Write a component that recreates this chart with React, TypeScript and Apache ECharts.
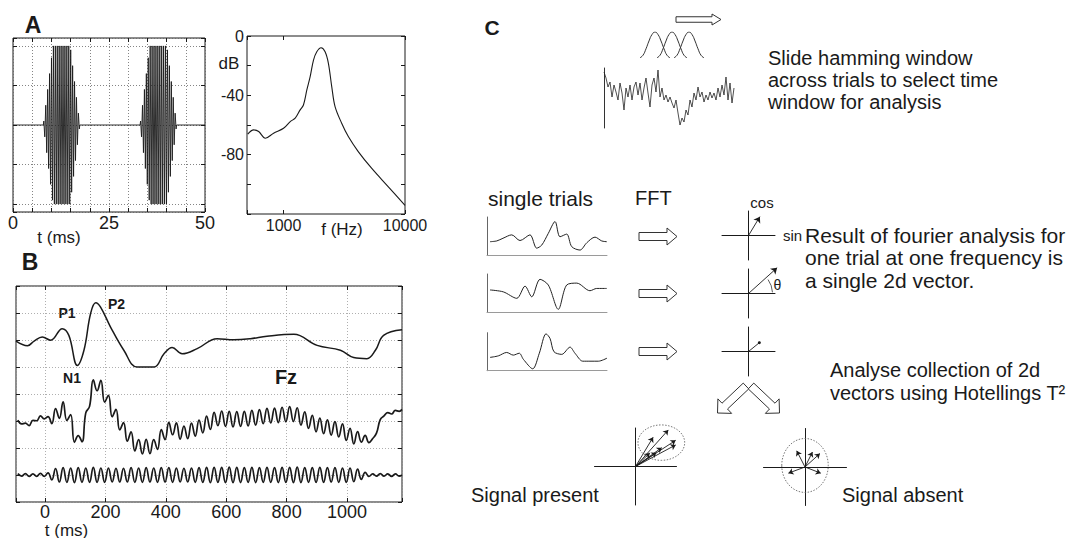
import React, { useEffect, useRef } from 'react';
import * as echarts from 'echarts';

const FONT = "'Liberation Sans', Arial, Helvetica, sans-serif";
const INK = '#1a1a1a';

// ---------- Panel A (left): two tone bursts ----------
const toneRangeMs = [0, 50];
const toneTickLabels = [0, 25, 50];
const burstStartsMs = [7.9, 33.1];
const burstHalfPeriodMs = 0.25;
const burstEnvelope = [0.05, 0.15, 0.25, 0.35, 0.45, 0.55, 0.65, 0.75, 0.85, 0.95, 1, 1, 1, 1, 1, 1, 1, 1, 1, 1, 1, 1, 1, 1, 1, 1, 1, 1, 0.95, 0.85, 0.75, 0.65, 0.55, 0.45, 0.35, 0.25, 0.15, 0.05];

// ---------- Panel A (right): spectrum ----------
const specFreqHz = [507, 568, 624, 708, 828, 1000, 1135, 1247, 1370, 1458, 1555, 1656, 1764, 1878, 2037, 2198, 2340, 2493, 2655, 3010, 3414, 4121, 5305, 7262, 10000];
const specDb = [-66.2, -63.3, -64.4, -68.9, -65.5, -62.2, -57.7, -55.4, -49.8, -46.5, -36.4, -27.4, -16.2, -10.6, -7.9, -10.6, -18.4, -34.1, -47.6, -58.8, -67.8, -77.9, -89.1, -101.5, -114.2];
const specDbLabels = [0, -40, -80];
const specFreqLabels = [1000, 10000];

// ---------- Panel B ----------
const erpRangeMs = [-96, 1182];
const erpTickLabels = [0, 200, 400, 600, 800, 1000];
const erpTimesMs = [-96, -58, -36, -9, 19, 57, 79, 107, 129, 151, 168, 184, 217, 261, 305, 361, 394, 421, 454, 504, 570, 625, 680, 735, 824, 901, 978, 1022, 1066, 1094, 1121, 1182];
const erpValues = [5.96, 5.79, 5.96, 6.11, 5.99, 6.42, 6.17, 5.06, 5.62, 6.98, 7.38, 7.22, 6.48, 5.62, 5.0, 5.0, 5.49, 5.72, 5.49, 5.68, 6.05, 6.01, 6.05, 6.14, 6.21, 5.8, 5.62, 5.35, 5.31, 5.62, 6.17, 6.38];
const fzStartMs = -90;
const fzStepMs = 12.5;
const fzValues = [3.03, 2.89, 2.92, 2.83, 3.02, 3.01, 3.19, 3.08, 3.16, 2.9, 3.46, 3.1, 3.71, 3.02, 3.24, 2.21, 2.46, 2.23, 3.3, 3.54, 4.52, 4.12, 4.51, 3.7, 3.95, 3.16, 3.43, 2.67, 2.94, 2.25, 2.6, 1.89, 2.31, 1.78, 2.32, 1.79, 2.31, 1.95, 2.68, 2.31, 2.95, 2.49, 2.93, 2.33, 2.81, 2.35, 2.92, 2.44, 3.03, 2.56, 3.18, 2.69, 3.32, 2.83, 3.37, 2.8, 3.36, 2.78, 3.35, 2.8, 3.36, 2.82, 3.39, 2.85, 3.42, 2.9, 3.47, 2.93, 3.48, 2.94, 3.51, 2.97, 3.53, 2.98, 3.49, 2.85, 3.34, 2.73, 3.21, 2.6, 3.11, 2.53, 3.04, 2.48, 2.98, 2.41, 2.89, 2.28, 2.73, 2.15, 2.61, 2.22, 2.47, 2.2, 2.35, 2.55, 3.05, 3.19, 3.31, 3.26, 3.39, 3.36];
const fzEndValue = 3.43;
const ssrValues = [1.05, 0.96, 1.05, 0.95, 1.04, 0.95, 1.06, 0.95, 1.08, 0.82, 1.24, 0.74, 1.27, 0.73, 1.26, 0.72, 1.27, 0.73, 1.26, 0.73, 1.28, 0.73, 1.26, 0.73, 1.26, 0.74, 1.25, 0.74, 1.25, 0.74, 1.27, 0.73, 1.26, 0.73, 1.27, 0.74, 1.26, 0.73, 1.27, 0.74, 1.27, 0.73, 1.26, 0.74, 1.25, 0.74, 1.26, 0.73, 1.27, 0.73, 1.28, 0.72, 1.28, 0.73, 1.28, 0.72, 1.29, 0.72, 1.28, 0.72, 1.27, 0.73, 1.28, 0.72, 1.27, 0.73, 1.28, 0.73, 1.27, 0.72, 1.28, 0.73, 1.28, 0.72, 1.29, 0.72, 1.27, 0.73, 1.27, 0.73, 1.28, 0.73, 1.27, 0.74, 1.27, 0.73, 1.26, 0.73, 1.26, 0.75, 1.22, 0.84, 1.1, 0.95, 1.04, 0.96, 1.05, 0.96, 1.04, 0.95, 1.04, 0.96];
const ssrEndValue = 1.0;

// ---------- Panel C ----------
const noiseValues = [56, 50, 41, 46, 31, 43, 36, 28, 45, 35, 18, 40, 31, 43, 28, 41, 46, 33, 45, 28, 40, 50, 35, 21, 43, 50, 36, 58, 31, 40, 28, 33, 26, 31, 25, 20, 28, 15, 3, 10, 6, 18, 13, 28, 21, 35, 28, 41, 31, 36, 26, 33, 28, 36, 30, 35, 28, 40, 31, 43, 33, 51, 28, 45, 25, 40];
const hammingX = [0, 3, 6, 9, 12, 15, 18, 21, 24, 27, 30];
const hammingShape = [0.08, 0.17, 0.4, 0.68, 0.91, 1, 0.91, 0.68, 0.4, 0.17, 0.08];
const hammingOffsets = [0, 17, 34];
const trial1 = [[2.5, 3.5], [8.1, 3.7], [13.3, 4.4], [20.6, 5.3], [27.5, 3.8], [35.8, 5.3], [41.4, 1.8], [45.6, 2.6], [51.1, 5.7], [56.7, 8.8], [60.8, 4.8], [66.4, 5.5], [70.6, 2.2], [77.5, 1.3], [83.1, 3.2], [90, 4.7], [95.6, 3.7], [99.8, 3.5]];
const trial2 = [[2.5, 5.8], [13.6, 5.3], [24.8, 3.6], [31.7, 6.8], [37.3, 4.0], [44.2, 8.6], [51.1, 7.1], [59.4, 0.7], [66.4, 7.1], [74.8, 7.6], [85.8, 5.6], [91.4, 6.2], [99.8, 6.2]];
const trial3 = [[2.5, 3.5], [9.4, 3.9], [16.4, 4.8], [21.9, 4.1], [26.9, 4.6], [30.3, 3.0], [38.1, 0.5], [43.6, 4.6], [49.2, 9.7], [52.5, 8.5], [55.8, 5.0], [62.3, 4.3], [69.2, 6.2], [73.3, 4.6], [79.8, 2.5], [85.8, 2.5], [92.8, 2.5], [100, 3.3]];
const singleVectors = [[0.43, 0.77], [1.08, 1.05], [0.41, 0.36]];
const presentVectors = [[0.43, 0.76], [0.8, 0.95], [0.98, 0.68], [0.98, 0.56], [0.35, 0.35], [0.51, 0.36], [0.64, 0.49]];
const presentEllipse = [0.63, 0.62, 0.57, 0.46];
const absentVectors = [[-0.2, 0.42], [0.18, 0.39], [0.36, 0.35], [-0.4, -0.16], [0.38, -0.16]];
const absentEllipse = [0, 0.04, 0.56, 0.7];

function arrowPoints(x1: number, y1: number, x2: number, y2: number, sw: number, hw: number, hl: number) {
  const dx = x2 - x1, dy = y2 - y1, L = Math.hypot(dx, dy);
  const ux = dx / L, uy = dy / L, nx = -uy, ny = ux;
  const bx = x2 - ux * hl, by = y2 - uy * hl;
  return [
    [x1 + nx * sw / 2, y1 + ny * sw / 2],
    [bx + nx * sw / 2, by + ny * sw / 2],
    [bx + nx * hw / 2, by + ny * hw / 2],
    [x2, y2],
    [bx - nx * hw / 2, by - ny * hw / 2],
    [bx - nx * sw / 2, by - ny * sw / 2],
    [x1 - nx * sw / 2, y1 - ny * sw / 2],
  ];
}

function buildOption() {
  const grid: any[] = [], xAxis: any[] = [], yAxis: any[] = [], series: any[] = [];
  const addGrid = (g: any) => { grid.push({ containLabel: false, outerBoundsMode: 'none', ...g }); return grid.length - 1; };
  const addX = (a: any) => { xAxis.push(a); return xAxis.length - 1; };
  const addY = (a: any) => { yAxis.push(a); return yAxis.length - 1; };
  const tick = { show: true, inside: true, length: 4, lineStyle: { color: INK, width: 1 } };
  const noLine = { show: false, onZero: false };
  const dotted = (c: string) => ({ show: true, lineStyle: { color: c, type: [1, 2], width: 0.8 } });
  const lbl = (size: number) => ({ color: INK, fontFamily: FONT, fontSize: size });
  const frame = { show: true, borderColor: INK, borderWidth: 1, backgroundColor: 'transparent' };

  // ---- A left ----
  const gA = addGrid({ left: 13, top: 38, width: 192, height: 174, ...frame });
  const xA = addX({ type: 'value', gridIndex: gA, position: 'bottom', min: toneRangeMs[0], max: toneRangeMs[1], interval: 5, axisLine: noLine, axisTick: tick,
    axisLabel: { ...lbl(18), margin: 2, formatter: (v: number) => (toneTickLabels.includes(v) ? String(v) : '') }, splitLine: dotted('#666') });
  addX({ type: 'value', gridIndex: gA, position: 'top', min: toneRangeMs[0], max: toneRangeMs[1], interval: 5, axisLine: noLine, axisTick: tick, axisLabel: { show: false }, splitLine: { show: false } });
  const yA = addY({ type: 'value', gridIndex: gA, position: 'left', min: -1.1, max: 1.1, minInterval: 0.5, maxInterval: 0.5, splitNumber: 4, axisLine: noLine, axisTick: tick, axisLabel: { show: false }, splitLine: dotted('#666') });
  addY({ type: 'value', gridIndex: gA, position: 'right', min: -1.1, max: 1.1, minInterval: 0.5, maxInterval: 0.5, splitNumber: 4, axisLine: noLine, axisTick: tick, axisLabel: { show: false }, splitLine: { show: false } });
  const tone: number[][] = [[toneRangeMs[0], 0]];
  burstStartsMs.forEach((s) => {
    tone.push([s, 0]);
    burstEnvelope.forEach((a, k) => tone.push([s + (k + 0.5) * burstHalfPeriodMs, k % 2 === 0 ? a : -a]));
    tone.push([s + burstEnvelope.length * burstHalfPeriodMs, 0]);
  });
  tone.push([toneRangeMs[1], 0]);
  series.push({ type: 'line', xAxisIndex: xA, yAxisIndex: yA, data: tone, symbol: 'none', lineStyle: { color: INK, width: 0.9 } });

  // ---- A right ----
  const gS = addGrid({ left: 247, top: 36, width: 158, height: 178, ...frame });
  const near = (v: number, list: number[]) => list.some((t) => Math.abs(v - t) < 0.5);
  const xS = addX({ type: 'log', logBase: 10, gridIndex: gS, position: 'bottom', min: 500, max: 10000, axisLine: noLine, axisTick: tick,
    axisLabel: { ...lbl(16), margin: 3, formatter: (v: number) => (near(v, specFreqLabels) ? String(Math.round(v)) : '') }, splitLine: { show: false } });
  addX({ type: 'log', logBase: 10, gridIndex: gS, position: 'top', min: 500, max: 10000, axisLine: noLine, axisTick: tick, axisLabel: { show: false }, splitLine: { show: false } });
  const yS = addY({ type: 'value', gridIndex: gS, position: 'left', min: -120, max: 0, interval: 20, axisLine: noLine, axisTick: tick,
    axisLabel: { ...lbl(16), margin: 3, formatter: (v: number) => (near(v, specDbLabels) ? String(v) : '') }, splitLine: { show: false } });
  addY({ type: 'value', gridIndex: gS, position: 'right', min: -120, max: 0, interval: 20, axisLine: noLine, axisTick: tick, axisLabel: { show: false }, splitLine: { show: false } });
  series.push({ type: 'line', xAxisIndex: xS, yAxisIndex: yS, data: specFreqHz.map((f, i) => [f, specDb[i]]), symbol: 'none', smooth: 0.35, lineStyle: { color: INK, width: 1.1 } });

  // ---- B ----
  const gB = addGrid({ left: 16, top: 286, width: 386, height: 216, ...frame });
  const xB = addX({ type: 'value', gridIndex: gB, position: 'bottom', min: erpRangeMs[0], max: erpRangeMs[1], minInterval: 200, maxInterval: 200, splitNumber: 6, axisLine: noLine, axisTick: tick,
    axisLabel: { ...lbl(18), margin: 1, formatter: (v: number) => (near(v, erpTickLabels) ? String(Math.round(v)) : '') }, splitLine: dotted('#9a9a9a') });
  addX({ type: 'value', gridIndex: gB, position: 'top', min: erpRangeMs[0], max: erpRangeMs[1], minInterval: 200, maxInterval: 200, splitNumber: 6, axisLine: noLine, axisTick: tick, axisLabel: { show: false }, splitLine: { show: false } });
  const yB = addY({ type: 'value', gridIndex: gB, position: 'left', min: 0, max: 8, interval: 1, axisLine: noLine, axisTick: tick, axisLabel: { show: false }, splitLine: dotted('#9a9a9a') });
  addY({ type: 'value', gridIndex: gB, position: 'right', min: 0, max: 8, interval: 1, axisLine: noLine, axisTick: tick, axisLabel: { show: false }, splitLine: { show: false } });
  const fzTimes = fzValues.map((_, i) => fzStartMs + i * fzStepMs);
  series.push({ type: 'line', xAxisIndex: xB, yAxisIndex: yB, data: erpTimesMs.map((t, i) => [t, erpValues[i]]), symbol: 'none', smooth: 0.4, lineStyle: { color: INK, width: 1.5 } });
  series.push({ type: 'line', xAxisIndex: xB, yAxisIndex: yB, data: [...fzTimes.map((t, i) => [t, fzValues[i]]), [erpRangeMs[1], fzEndValue]], symbol: 'none', smooth: 0.45, lineStyle: { color: INK, width: 1.7 } });
  series.push({ type: 'line', xAxisIndex: xB, yAxisIndex: yB, data: [...fzTimes.map((t, i) => [t, ssrValues[i]]), [erpRangeMs[1], ssrEndValue]], symbol: 'none', smooth: 0.45, lineStyle: { color: INK, width: 1.7 } });

  // ---- C: hamming windows ----
  const gH = addGrid({ left: 640, top: 32, width: 64, height: 28 });
  const xH = addX({ type: 'value', gridIndex: gH, min: 0, max: 64, show: false });
  const yH = addY({ type: 'value', gridIndex: gH, min: 0, max: 1, show: false });
  hammingOffsets.forEach((o) => {
    series.push({ type: 'line', xAxisIndex: xH, yAxisIndex: yH, data: hammingX.map((x, i) => [o + x, hammingShape[i]]), symbol: 'none', smooth: true, lineStyle: { color: '#333', width: 1 } });
  });

  // ---- C: noisy trace ----
  const gN = addGrid({ left: 604, top: 68, width: 130, height: 60 });
  const xN = addX({ type: 'category', gridIndex: gN, data: noiseValues.map((_, i) => i), boundaryGap: false, axisLine: noLine, axisTick: { show: false }, axisLabel: { show: false }, splitLine: { show: false } });
  const yN = addY({ type: 'value', gridIndex: gN, min: 0, max: 60, axisLine: { show: true, onZero: false, lineStyle: { color: '#333', width: 1 } }, axisTick: { show: false }, axisLabel: { show: false }, splitLine: { show: false } });
  series.push({ type: 'line', xAxisIndex: xN, yAxisIndex: yN, data: noiseValues, symbol: 'none', lineStyle: { color: '#222', width: 0.8 } });

  // ---- C: single trials ----
  const trials = [trial1, trial2, trial3];
  const trialTops = [217, 274, 332.7];
  trials.forEach((tr, k) => {
    const g = addGrid({ left: 487, top: trialTops[k], width: 120, height: 38 });
    const xi = addX({ type: 'value', gridIndex: g, min: 0, max: 100, axisLine: { show: true, onZero: false, lineStyle: { color: '#9a9a9a', width: 1 } }, axisTick: { show: false }, axisLabel: { show: false }, splitLine: { show: false } });
    const yi = addY({ type: 'value', gridIndex: g, min: 0, max: 10, axisLine: { show: true, onZero: false, lineStyle: { color: '#666', width: 1 } }, axisTick: { show: false }, axisLabel: { show: false }, splitLine: { show: false } });
    series.push({ type: 'line', xAxisIndex: xi, yAxisIndex: yi, data: tr, symbol: 'none', smooth: 0.3, lineStyle: { color: '#222', width: 1 } });
  });

  // ---- C: vector diagrams ----
  const vecGrid = (left: number, top: number, width: number, height: number) => {
    const g = addGrid({ left, top, width, height });
    const ax = { show: true, onZero: true, lineStyle: { color: INK, width: 1 } };
    const xi = addX({ type: 'value', gridIndex: g, min: -1, max: 1, axisLine: ax, axisTick: { show: false }, axisLabel: { show: false }, splitLine: { show: false } });
    const yi = addY({ type: 'value', gridIndex: g, min: -1, max: 1, axisLine: ax, axisTick: { show: false }, axisLabel: { show: false }, splitLine: { show: false } });
    return [xi, yi];
  };
  const vectorSeries = (ax: number[], vecs: number[][], head: string, size: number) => ({
    type: 'lines', coordinateSystem: 'cartesian2d', xAxisIndex: ax[0], yAxisIndex: ax[1], clip: false,
    data: vecs.map((v) => ({ coords: [[0, 0], v] })), symbol: ['none', head], symbolSize: size,
    lineStyle: { color: INK, width: 0.9, opacity: 1, curveness: 0 }, itemStyle: { color: INK },
  });
  const ellipseSeries = (ax: number[], e: number[]) => ({
    type: 'custom', xAxisIndex: ax[0], yAxisIndex: ax[1], clip: false, silent: true, data: [e],
    renderItem: (_p: any, api: any) => {
      const c = api.coord([api.value(0), api.value(1)]);
      const s = api.size([api.value(2), api.value(3)]);
      return { type: 'ellipse', shape: { cx: c[0], cy: c[1], rx: s[0], ry: s[1] }, style: { fill: 'none', stroke: '#555', lineWidth: 0.8, lineDash: [1.5, 1.5] } };
    },
  });
  const vTops = [211, 269, 327];
  vTops.forEach((t, k) => {
    const ax = vecGrid(722, t, 53, 49);
    series.push(vectorSeries(ax, [singleVectors[k]], k === 2 ? 'circle' : 'arrow', k === 2 ? 3 : 6));
  });
  const axP = vecGrid(594.5, 428, 82, 77);
  series.push(ellipseSeries(axP, presentEllipse));
  series.push(vectorSeries(axP, presentVectors, 'arrow', 5));
  const axA = vecGrid(763.5, 428.5, 83, 77);
  series.push(ellipseSeries(axA, absentEllipse));
  series.push(vectorSeries(axA, absentVectors, 'arrow', 5));

  // ---- graphics: texts & block arrows ----
  const txt = (text: string, x: number, y: number, size: number, opts: any = {}) => ({
    type: 'text', x, y, silent: true,
    style: { text, fill: INK, fontFamily: FONT, fontSize: size, fontWeight: opts.bold ? 'bold' : 'normal', align: opts.align || 'center', verticalAlign: opts.va || 'middle', lineHeight: opts.lh },
  });
  const poly = (pts: number[][]) => ({ type: 'polygon', silent: true, shape: { points: pts }, style: { fill: '#fff', stroke: '#333', lineWidth: 1 } });
  const graphic: any[] = [
    txt('A', 33, 25, 23, { bold: true }),
    txt('B', 30, 262, 23, { bold: true }),
    txt('C', 492, 27.5, 21, { bold: true }),
    txt('t (ms)', 59, 237, 17),
    txt('dB', 229, 63, 17),
    txt('f (Hz)', 342, 229, 17),
    txt('t (ms)', 66.5, 530, 17),
    txt('P1', 67, 313, 14, { bold: true }),
    txt('P2', 116.5, 303.5, 14, { bold: true }),
    txt('N1', 72, 377.5, 14, { bold: true }),
    txt('Fz', 286, 377, 20, { bold: true }),
    txt('Slide hamming window\nacross trials to select time\nwindow for analysis', 768, 47.5, 20, { align: 'left', va: 'top', lh: 21.7 }),
    txt('single trials', 488, 198, 21, { align: 'left' }),
    txt('FFT', 635, 198, 20, { align: 'left' }),
    txt('cos', 762, 202, 15),
    txt('sin', 783, 235, 15, { align: 'left' }),
    txt('\u03b8', 777.5, 285, 14),
    txt('Result of fourier analysis for\none trial at one frequency is\na single 2d vector.', 805, 224, 21, { align: 'left', va: 'top', lh: 22.5 }),
    txt('Analyse collection of 2d\nvectors using Hotellings T\u00b2', 830, 358.5, 20, { align: 'left', va: 'top', lh: 23.3 }),
    txt('Signal present', 471, 495, 20, { align: 'left' }),
    txt('Signal absent', 842, 495, 20, { align: 'left' }),
    { type: 'arc', silent: true, shape: { cx: 748.5, cy: 293.5, r: 24, startAngle: -0.62, endAngle: -0.05, clockwise: true }, style: { fill: 'none', stroke: '#333', lineWidth: 0.8 } },
    poly(arrowPoints(676, 19.5, 721, 19.5, 5.5, 11, 9)),
    poly(arrowPoints(639, 236.5, 677, 236.5, 8, 17, 10)),
    poly(arrowPoints(639, 293.5, 677, 293.5, 8, 17, 10)),
    poly(arrowPoints(639, 351.5, 677, 351.5, 8, 17, 10)),
    poly(arrowPoints(746, 386, 717.5, 413, 8, 20, 10)),
    poly(arrowPoints(751, 386, 779.5, 413, 8, 20, 10)),
  ];

  return { animation: false, backgroundColor: '#fff', grid, xAxis, yAxis, series, graphic };
}

export default function App() {
  const ref = useRef<HTMLDivElement>(null);
  useEffect(() => {
    const chart = echarts.init(ref.current!, null, { renderer: 'svg' });
    chart.setOption(buildOption() as any);
    return () => chart.dispose();
  }, []);
  return <div ref={ref} style={{ position: 'fixed', left: 0, top: 0, width: 1071, height: 538, background: '#fff' }} />;
}
